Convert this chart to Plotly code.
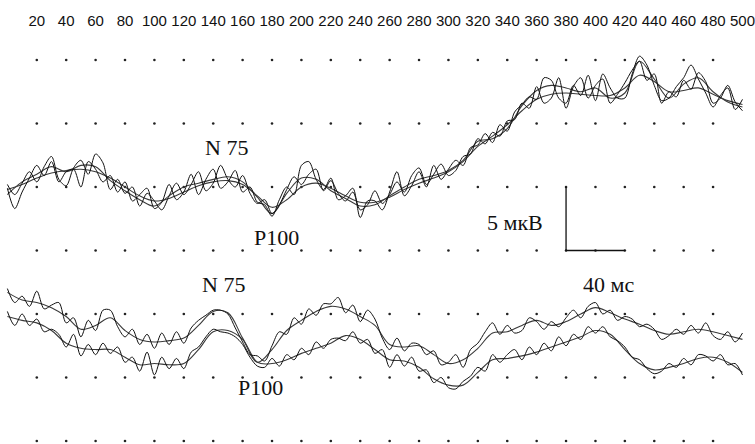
import plotly.graph_objects as go

# ---- axis / tick data ----
tick_ms = list(range(20, 520, 20))
tick_labels = [str(v) for v in tick_ms]
grid_cols_ms = list(range(20, 500, 20))
grid_rows_uv = [0, 5, 10, 15, 20, 25, 30]

# ---- time bases ----
t10 = list(range(0, 510, 10))
t5 = list(range(0, 505, 5))

# ---- upper group (microvolts) ----
top_smooth_a = [19.8, 20.2, 20.7, 21.1, 21.3, 21.4, 21.2, 20.7, 20.0, 19.3, 18.9, 19.1, 19.6, 20.1, 20.4, 20.5, 20.2, 19.3, 18.4, 19.0,
                20.0, 20.3, 19.9, 19.3, 18.8, 18.8, 19.2, 19.8, 20.3, 20.7, 21.2, 22.0, 23.2, 24.0, 24.9, 26.0, 26.9, 27.3, 27.4, 27.3,
                27.2, 27.2, 27.8, 28.8, 28.3, 27.5, 27.6, 27.8, 27.3, 26.8, 26.5]
top_smooth_b = [19.4, 20.4, 21.0, 21.6, 21.2, 21.7, 21.6, 20.5, 19.7, 19.0, 18.5, 19.3, 20.0, 20.3, 20.6, 20.8, 20.4, 19.2, 17.9, 19.5,
                20.7, 20.6, 19.7, 19.1, 18.5, 18.6, 19.3, 20.0, 20.6, 20.9, 21.3, 22.1, 23.6, 23.8, 24.6, 26.4, 27.6, 28.0, 27.8, 27.5,
                27.8, 27.0, 27.4, 29.9, 28.5, 27.0, 28.1, 28.6, 27.5, 26.7, 26.3]
top_noisy_a = [19.9, 18.3, 19.6, 20.7, 21.7, 20.9, 22.0, 20.4, 21.2, 21.4, 20.0, 22.0, 21.4, 20.4, 20.9, 19.6,
               20.4, 18.9, 19.4, 19.9, 18.3, 18.8, 20.2, 19.0, 19.6, 21.0, 19.4, 20.6, 21.4, 19.9, 20.4, 21.3, 19.6, 20.0,
               18.8, 18.6, 17.7, 19.0, 20.0, 19.4, 21.7,
               22.0, 20.6, 19.8, 20.7, 19.0, 19.3, 19.9, 17.6, 18.9, 18.9, 18.2, 19.6, 21.2, 19.3, 20.1, 21.2, 20.0, 21.7,
               20.6, 21.4,
               22.1, 21.7, 23.1, 23.3, 24.2, 23.5, 24.9, 24.4, 25.9, 26.5, 27.1,
               26.9, 28.6, 28.4, 27.0, 26.6, 28.0, 27.2, 28.8, 26.8, 28.9, 27.8, 27.0, 27.0, 28.9, 30.3, 29.6, 28.0, 26.8,
               27.0, 27.9, 28.6, 29.6, 28.5, 27.4, 26.3, 27.2, 27.8, 26.1, 26.9]
top_noisy_b = [20.2, 19.4, 20.3, 21.2, 20.4, 21.6, 22.4, 20.6, 20.1, 21.5, 22.1, 21.0, 22.6, 21.9, 19.8, 20.6, 19.5, 20.0,
               18.5, 19.5, 18.9, 18.2, 19.3, 20.3, 19.4, 20.2, 21.2, 19.7, 20.3, 21.7, 20.6, 20.0, 20.9, 19.5, 18.7, 19.0,
               17.9, 18.6, 19.8, 20.8, 20.2, 21.0, 21.4, 19.7, 20.5, 19.5, 18.9, 19.6, 18.2, 18.6, 19.7, 18.7, 19.4, 20.4,
               19.6, 20.9, 21.5, 20.2, 21.0, 21.8, 20.9,
               21.3, 22.4, 22.6, 23.8, 23.4, 24.3, 24.0, 25.2, 25.3, 26.6, 26.2,
               27.9, 26.6, 27.0, 28.6, 26.2, 27.9, 28.6, 27.0, 28.0, 28.5, 26.6, 27.3, 28.2, 29.2, 29.9, 28.4, 28.9, 26.6,
               27.5, 27.1, 28.4, 27.7, 29.0, 28.3, 26.6, 27.0, 28.0, 26.7, 26.0]

# ---- lower group (microvolts) ----
low_smooth_a = [11.7, 11.1, 10.9, 10.5, 9.8, 8.8, 9.1, 9.7, 8.7, 8.0, 7.8, 7.9, 8.1, 9.1, 10.2, 10.1, 8.1, 6.2, 7.2, 8.7,
                9.5, 10.2, 10.6, 10.4, 9.8, 9.1, 7.6, 7.4, 7.5, 6.8, 6.1, 6.4, 7.3, 8.5, 8.6, 9.1, 9.5, 9.1, 9.4, 10.0,
                10.5, 10.1, 9.6, 9.2, 8.7, 8.4, 8.6, 8.8, 8.6, 8.3, 8.0]
low_smooth_b = [9.8, 9.5, 9.3, 8.7, 7.7, 7.3, 7.2, 7.2, 6.6, 6.0, 6.1, 6.0, 6.1, 7.2, 8.6, 8.7, 8.0, 6.2, 6.1, 6.4,
                6.9, 7.3, 7.7, 8.3, 8.0, 7.2, 6.4, 6.3, 5.8, 4.9, 4.4, 4.4, 5.4, 6.4, 6.5, 6.7, 7.0, 7.4, 7.8, 8.2,
                8.7, 8.4, 7.2, 6.1, 5.6, 5.8, 6.1, 6.5, 6.6, 6.2, 5.4]
low_noisy_a = [12.0, 10.9, 11.4, 10.6, 11.8, 10.4, 10.7, 10.9, 9.3, 9.7, 8.2, 9.5, 8.7, 10.3, 10.3, 9.0, 8.2, 8.8, 7.6, 8.4,
               7.3, 8.5, 7.6, 8.6, 7.7, 8.9, 9.5, 9.9, 10.3, 10.3, 10.0, 8.9, 7.8, 6.8, 6.7, 6.3, 7.5, 8.6, 8.4, 9.7,
               9.2, 10.4, 9.9, 10.8, 10.8, 11.3, 10.1, 10.7, 9.4, 10.3, 9.6, 8.1, 7.2, 8.1, 7.1, 7.7, 7.6, 6.8, 7.1, 6.0,
               6.2, 6.8, 5.8, 7.2, 7.7, 8.6, 9.3, 8.4, 9.1, 8.5, 8.7, 9.7, 9.4, 8.8, 9.4, 9.0, 9.7, 10.3, 9.7, 10.6,
               10.9, 10.0, 10.3, 9.5, 9.8, 9.6, 9.0, 9.2, 8.8, 8.0, 8.3, 8.8, 8.4, 9.1, 8.5, 9.3, 8.3, 8.0, 8.6, 7.8,
               8.5]
low_noisy_b = [10.2, 9.1, 10.0, 9.1, 9.6, 8.6, 8.8, 8.4, 7.4, 8.4, 6.7, 7.6, 6.8, 7.7, 6.9, 7.4, 6.2, 6.6, 5.5, 7.0,
               5.2, 6.6, 5.7, 6.5, 5.7, 7.0, 7.4, 8.2, 8.8, 8.6, 8.5, 8.2, 7.6, 6.6, 5.9, 5.8, 6.5, 5.9, 6.8, 6.4,
               7.3, 6.8, 7.8, 7.3, 8.0, 8.1, 7.9, 8.6, 7.7, 8.0, 6.9, 7.2, 5.8, 6.8, 5.9, 6.6, 5.5, 5.6, 4.6, 5.0,
               4.2, 4.1, 4.7, 5.1, 5.8, 5.5, 6.8, 6.2, 6.8, 7.2, 6.4, 7.4, 6.8, 7.7, 7.1, 8.2, 7.5, 8.4, 8.0, 9.0,
               8.5, 9.0, 8.2, 7.9, 7.4, 6.6, 6.4, 5.7, 5.3, 5.5, 6.1, 5.8, 6.5, 6.0, 6.8, 6.7, 6.3, 6.8, 6.0, 6.1,
               5.2]

# ---- annotations ----
labels = ["N 75", "P100", "5 мкВ", "N 75", "P100", "40 мс"]
label_x = [149, 183, 345, 147, 172, 409]
label_y = [23.1, 16.0, 17.2, 12.3, 4.25, 12.3]

# scale bar: 5 uV vertical, 40 ms horizontal
bar_x0, bar_x1 = 380, 420
bar_y0, bar_y1 = 15, 20

fig = go.Figure()

# dot grid
gx = [c for r in grid_rows_uv for c in grid_cols_ms]
gy = [r for r in grid_rows_uv for c in grid_cols_ms]
fig.add_trace(go.Scatter(x=gx, y=gy, mode="markers",
                         marker=dict(size=2.6, color="#222"), hoverinfo="skip"))

smooth_style = dict(color="#3a3a3a", width=1.1, shape="spline", smoothing=1.0)
noisy_style = dict(color="#111", width=1.0, shape="spline", smoothing=0.9)

for ys in [top_smooth_a, top_smooth_b, low_smooth_a, low_smooth_b]:
    fig.add_trace(go.Scatter(x=t10, y=ys, mode="lines", line=smooth_style))
for ys in [top_noisy_a, top_noisy_b, low_noisy_a, low_noisy_b]:
    fig.add_trace(go.Scatter(x=t5, y=ys, mode="lines", line=noisy_style))

# scale bar
fig.add_trace(go.Scatter(x=[bar_x0, bar_x0, bar_x1], y=[bar_y1, bar_y0, bar_y0],
                         mode="lines", line=dict(color="#111", width=1.3)))

for txt, xx, yy in zip(labels, label_x, label_y):
    fig.add_annotation(x=xx, y=yy, text=txt, showarrow=False,
                       font=dict(family="Liberation Serif, Times New Roman, serif", size=22, color="#111"))

fig.update_layout(
    width=755, height=444,
    margin=dict(l=0, r=0, t=30, b=0),
    paper_bgcolor="white", plot_bgcolor="white",
    showlegend=False,
    xaxis=dict(range=[-5.03, 505.8], side="top", tickvals=tick_ms, ticktext=tick_labels,
               showgrid=False, zeroline=False, showline=False, ticks="",
               ticklabeloverflow="allow",
               tickfont=dict(family="Liberation Sans, Arial, sans-serif", size=15, color="#111")),
    yaxis=dict(range=[-0.236, 32.36], showgrid=False, zeroline=False, showline=False,
               showticklabels=False, ticks=""),
)

fig.write_html("out.html", config={"displayModeBar": False},
               post_script="document.body.style.margin='0';document.body.style.overflow='hidden';")
